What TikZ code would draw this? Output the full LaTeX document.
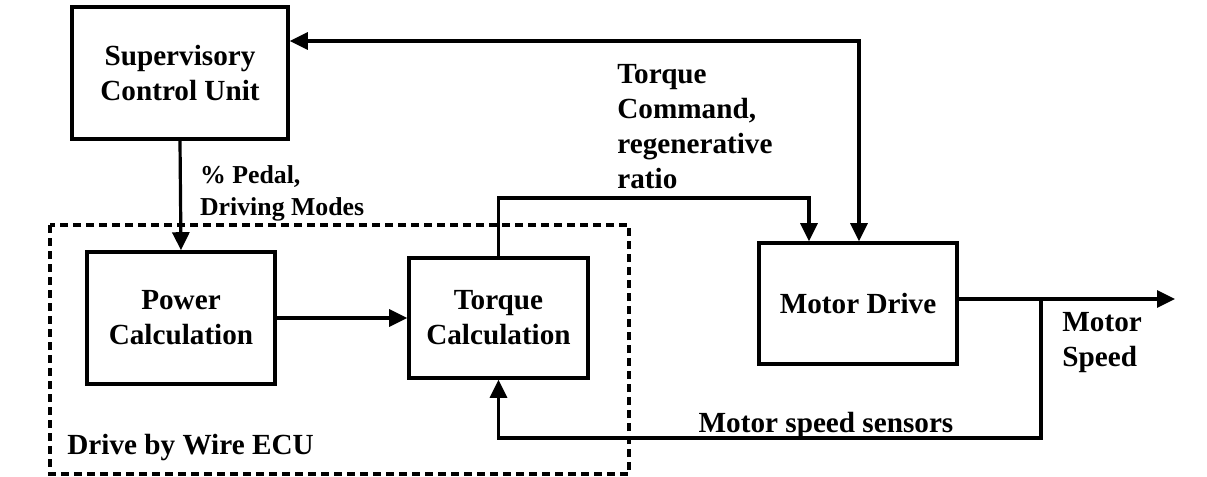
\documentclass[tikz,border=0pt]{standalone}
\usepackage{fontspec}
\setmainfont{Liberation Serif}
\usepackage{tikz}
\usetikzlibrary{arrows.meta}

\begin{document}
\begin{tikzpicture}[
    x=0.5pt, y=-0.5pt,
    every node/.style={font=\fontsize{14.6}{17.5}\selectfont\bfseries},
    block/.style={draw, line width=1.8pt, inner sep=0pt, align=center},
    conn/.style={line width=1.6pt},
    signal/.style={conn, -{Triangle[length=9pt, width=8.5pt]}},
    label text/.style={align=left, inner sep=0pt}
  ]

  \useasboundingbox (0,0) rectangle (1207,477);

  % the ECU frame
  \draw[line width=1.6pt, dash pattern=on 4pt off 2.5pt] (50,225) rectangle (629,474);
  \node[label text, anchor=west] (ecu_name) at (67,448) {Drive by Wire ECU};

  \node[block, minimum width=108pt, minimum height=66pt] (scu) at (180,73) {Supervisory\\Control Unit};
  \node[block, minimum width=94pt, minimum height=66pt] (power) at (181,318) {Power\\Calculation};
  \node[block, minimum width=89.5pt, minimum height=60pt] (torque) at (498.5,318) {Torque\\Calculation};
  \node[block, minimum width=99pt, minimum height=60.5pt] (motor) at (858,303.5) {Motor Drive};

  \coordinate (sup_turn) at (859,41);
  \coordinate (cmd_turn) at (809,198);
  \coordinate (out_end) at (1175,299);
  \coordinate (tap) at (1041,299);
  \coordinate (fb_low) at (1041,438);

  \draw[signal] (scu.south) -- (power.north)
    node[label text, anchor=west, pos=0.48, xshift=9pt, font=\fontsize{12.9}{16}\selectfont\bfseries] (pedal) {\% Pedal,\\Driving Modes};
  \draw[signal] (power.east) -- (torque.west);
  \draw[signal] (torque.north) |- (cmd_turn) -- (cmd_turn |- motor.north);
  \draw[conn, {Triangle[length=9pt, width=8.5pt]}-{Triangle[length=9pt, width=8.5pt]}]
    (scu.east |- sup_turn) -- (sup_turn) -- (sup_turn |- motor.north);
  \draw[signal] (motor.east |- out_end) -- (out_end);
  \draw[signal] (tap) -- (fb_low) -| (torque.south);

  \node[label text, anchor=west] (cmd) at (617,127) {Torque\\Command,\\regenerative\\ratio};
  \node[label text, anchor=west] (speed) at (1062,343) {Motor\\Speed};
  \node[label text, anchor=base] (sensors) at (826,432) {Motor speed sensors};

\end{tikzpicture}
\end{document}
